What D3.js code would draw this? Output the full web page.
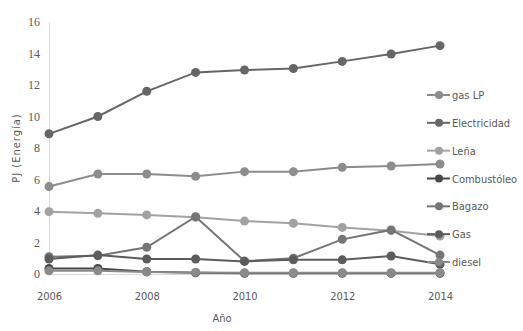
<!DOCTYPE html>
<html><head><meta charset="utf-8">
<script src="https://cdn.jsdelivr.net/npm/d3@7"></script>
<style>body{margin:0;background:#fff;} svg{display:block;}</style>
</head><body>
<svg id="c" width="523" height="331"></svg>
<script>
const years = [2006,2007,2008,2009,2010,2011,2012,2013,2014];
const xTicks = [2006,2008,2010,2012,2014];
const yTicks = [0,2,4,6,8,10,12,14,16];
const seriesNames = ["gas LP","Electricidad","Leña","Combustóleo","Bagazo","Gas","diesel"];
const gasLP =        [5.55,6.35,6.35,6.2,6.5,6.5,6.77,6.86,6.98];
const electricidad = [8.9,10.0,11.6,12.8,12.95,13.05,13.5,13.97,14.5];
const lena =         [3.96,3.85,3.75,3.6,3.36,3.22,2.96,2.75,2.41];
const combustoleo =  [0.35,0.35,0.15,0.08,0.05,0.05,0.05,0.05,0.05];
const bagazo =       [1.1,1.16,1.7,3.64,0.82,1.0,2.2,2.8,1.2];
const gas =          [0.95,1.2,0.95,0.95,0.8,0.9,0.9,1.14,0.62];
const diesel =       [0.2,0.2,0.12,0.1,0.08,0.08,0.08,0.08,0.08];
const seriesValues = [gasLP,electricidad,lena,combustoleo,bagazo,gas,diesel];
const colors = ["#8c8c8c","#666666","#a2a2a2","#474747","#757575","#5c5c5c","#8a8a8a"];

const svg = d3.select("#c");
const x = d3.scaleLinear().domain([2006,2014]).range([49,440]);
const y = d3.scaleLinear().domain([0,16]).range([274,22]);
const font = "'DejaVu Sans Condensed','Liberation Sans',sans-serif";

// y axis
const ya = svg.append("g").attr("transform","translate(49,0)")
  .call(d3.axisLeft(y).tickValues(yTicks).tickSize(0).tickPadding(9));
ya.select(".domain").attr("stroke","#d9d9d9");
ya.selectAll("text").attr("font-family","'Liberation Serif','DejaVu Serif',serif").attr("font-size",12).attr("fill","#595959");

// x axis
const xa = svg.append("g").attr("transform","translate(0,274)")
  .call(d3.axisBottom(x).tickValues(xTicks).tickFormat(d3.format("d")).tickSize(0).tickPadding(18));
xa.select(".domain").attr("stroke","#d9d9d9");
xa.selectAll("text").attr("font-family",font).attr("font-size",11).attr("fill","#595959");

// axis titles
svg.append("text").attr("x",222).attr("y",322).attr("text-anchor","middle")
  .attr("font-family",font).attr("font-size",11).attr("fill","#595959").text("Año");
svg.append("text").attr("transform","translate(20,148) rotate(-90)").attr("text-anchor","middle")
  .attr("font-family",font).attr("font-size",11).attr("letter-spacing","1px").attr("fill","#595959").text("PJ (Energía)");

const line = d3.line().x((d,i)=>x(years[i])).y(d=>y(d));
seriesValues.forEach((vals,k)=>{
  const g = svg.append("g");
  g.append("path").attr("d",line(vals)).attr("fill","none").attr("stroke",colors[k]).attr("stroke-width",2);
  g.selectAll("circle").data(vals).join("circle")
    .attr("cx",(d,i)=>x(years[i])).attr("cy",d=>y(d)).attr("r",4.5).attr("fill",colors[k]);
});

// legend
const ly = d3.scalePoint().domain(seriesNames).range([95,262]);
seriesNames.forEach((n,k)=>{
  const g = svg.append("g").attr("transform",`translate(0,${ly(n)})`);
  g.append("line").attr("x1",427).attr("x2",450).attr("stroke",colors[k]).attr("stroke-width",2);
  g.append("circle").attr("cx",439).attr("cy",0).attr("r",4).attr("fill",colors[k]);
  g.append("text").attr("x",452).attr("y",4).attr("font-family",font).attr("font-size",11)
    .attr("fill","#595959").text(n);
});
</script>
</body></html>
